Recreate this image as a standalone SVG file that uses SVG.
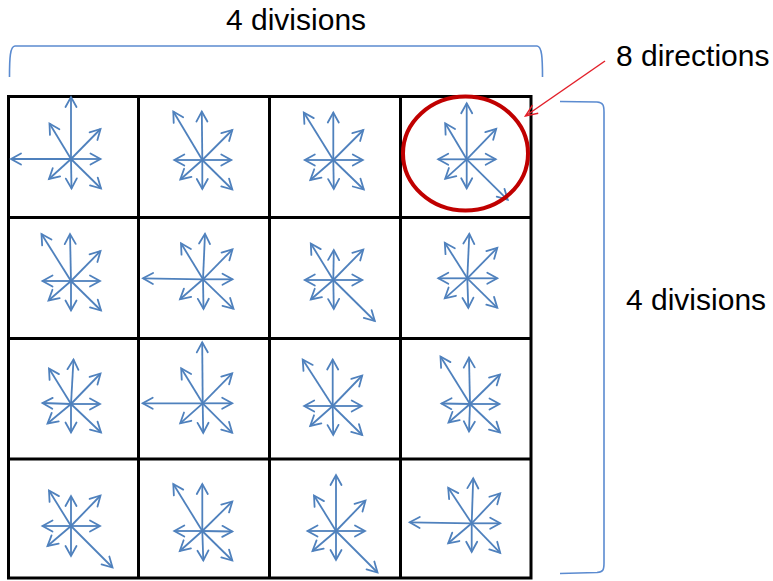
<svg xmlns="http://www.w3.org/2000/svg" width="773" height="581" viewBox="0 0 773 581">
<style>
.lbl{font-family:"Liberation Sans",Arial,sans-serif;font-size:30px;fill:#000}
.grid{fill:none;stroke:#000;stroke-width:3}
.a line{stroke:#4f81bd;stroke-width:1.8;fill:none;marker-end:url(#ah)}
.brace{fill:none;stroke:#5b8bd0;stroke-width:1.6}
</style>
<defs>
<marker id="ah" markerUnits="userSpaceOnUse" orient="auto" refX="0" refY="0" markerWidth="20" markerHeight="20" overflow="visible">
<path d="M-10,-5.5 L0,0 L-10,5.5" fill="none" stroke="#4f81bd" stroke-width="1.8" stroke-linecap="round"/>
</marker>
<marker id="rh" markerUnits="userSpaceOnUse" orient="auto" refX="0" refY="0" markerWidth="20" markerHeight="20" overflow="visible">
<path d="M-12,-5 L0,0 L-12,5" fill="none" stroke="#e3202a" stroke-width="1.5"/>
</marker>
</defs>
<rect width="773" height="581" fill="#fff"/>

<g id="grid">
<rect class="grid" x="8.5" y="96.5" width="522.5" height="481.5"/>
<line class="grid" x1="138.5" y1="96" x2="138.5" y2="578"/>
<line class="grid" x1="269.5" y1="96" x2="269.5" y2="578"/>
<line class="grid" x1="400.5" y1="96" x2="400.5" y2="578"/>
<line class="grid" x1="8" y1="217.5" x2="531" y2="217.5"/>
<line class="grid" x1="8" y1="338.5" x2="531" y2="338.5"/>
<line class="grid" x1="8" y1="459" x2="531" y2="459"/>
</g>

<g id="cell-0-0" class="a" transform="translate(71,159)">
<line x1="0" y1="0" x2="0" y2="-62"/><line x1="0" y1="0" x2="-21.5" y2="-35.5"/><line x1="0" y1="0" x2="29.5" y2="-30"/><line x1="0" y1="0" x2="29.5" y2="0"/><line x1="0" y1="0" x2="-60" y2="0"/><line x1="0" y1="0" x2="-22" y2="20"/><line x1="0" y1="0" x2="0.5" y2="29.5"/><line x1="0" y1="0" x2="30" y2="29.5"/>
</g>
<g id="cell-0-1" class="a" transform="translate(202.3,160)">
<line x1="0" y1="0" x2="-0.5" y2="-48.5"/><line x1="0" y1="0" x2="-29" y2="-48.5"/><line x1="0" y1="0" x2="30" y2="-30"/><line x1="0" y1="0" x2="29" y2="0"/><line x1="0" y1="0" x2="-28" y2="0"/><line x1="0" y1="0" x2="-22" y2="19.5"/><line x1="0" y1="0" x2="0" y2="29"/><line x1="0" y1="0" x2="30" y2="29.5"/>
</g>
<g id="cell-0-2" class="a" transform="translate(333.3,160)">
<line x1="0" y1="0" x2="0" y2="-47.5"/><line x1="0" y1="0" x2="-29.5" y2="-47.5"/><line x1="0" y1="0" x2="30" y2="-30"/><line x1="0" y1="0" x2="29.5" y2="0"/><line x1="0" y1="0" x2="-28.5" y2="0"/><line x1="0" y1="0" x2="-23" y2="20"/><line x1="0" y1="0" x2="0.5" y2="29"/><line x1="0" y1="0" x2="30.5" y2="29.5"/>
</g>
<g id="cell-0-3" class="a" transform="translate(466.7,159.3)">
<line x1="0" y1="0" x2="0" y2="-56"/><line x1="0" y1="0" x2="-21.5" y2="-36"/><line x1="0" y1="0" x2="29.5" y2="-30.5"/><line x1="0" y1="0" x2="29" y2="0"/><line x1="0" y1="0" x2="-28.5" y2="0"/><line x1="0" y1="0" x2="-21.5" y2="19.5"/><line x1="0" y1="0" x2="0" y2="29"/><line x1="0" y1="0" x2="41" y2="40.5"/>
</g>

<g id="cell-1-0" class="a" transform="translate(71,281)">
<line x1="0" y1="0" x2="-1" y2="-47"/><line x1="0" y1="0" x2="-29.5" y2="-47"/><line x1="0" y1="0" x2="29.5" y2="-30"/><line x1="0" y1="0" x2="29" y2="0"/><line x1="0" y1="0" x2="-28.5" y2="0"/><line x1="0" y1="0" x2="-22.5" y2="19.5"/><line x1="0" y1="0" x2="0" y2="29.5"/><line x1="0" y1="0" x2="30" y2="29.5"/>
</g>
<g id="cell-1-1" class="a" transform="translate(203,279.3)">
<line x1="0" y1="0" x2="2" y2="-45.5"/><line x1="0" y1="0" x2="-22" y2="-36"/><line x1="0" y1="0" x2="29.5" y2="-30"/><line x1="0" y1="0" x2="29.5" y2="0"/><line x1="0" y1="0" x2="-60" y2="-1"/><line x1="0" y1="0" x2="-23" y2="20"/><line x1="0" y1="0" x2="0.5" y2="29.5"/><line x1="0" y1="0" x2="30.5" y2="29.5"/>
</g>
<g id="cell-1-2" class="a" transform="translate(333.3,280)">
<line x1="0" y1="0" x2="0.5" y2="-30"/><line x1="0" y1="0" x2="-22.5" y2="-36.5"/><line x1="0" y1="0" x2="30" y2="-30.5"/><line x1="0" y1="0" x2="29" y2="0"/><line x1="0" y1="0" x2="-28.5" y2="0"/><line x1="0" y1="0" x2="-22.5" y2="19.5"/><line x1="0" y1="0" x2="0.5" y2="29"/><line x1="0" y1="0" x2="41.5" y2="41"/>
</g>
<g id="cell-1-3" class="a" transform="translate(467.3,278.3)">
<line x1="0" y1="0" x2="2" y2="-44.5"/><line x1="0" y1="0" x2="-22.5" y2="-35.5"/><line x1="0" y1="0" x2="30" y2="-30.5"/><line x1="0" y1="0" x2="30" y2="0"/><line x1="0" y1="0" x2="-29" y2="0"/><line x1="0" y1="0" x2="-22.5" y2="20"/><line x1="0" y1="0" x2="1" y2="29.5"/><line x1="0" y1="0" x2="30" y2="29.5"/>
</g>

<g id="cell-2-0" class="a" transform="translate(71,404)">
<line x1="0" y1="0" x2="2.5" y2="-44.5"/><line x1="0" y1="0" x2="-22" y2="-35.5"/><line x1="0" y1="0" x2="29.5" y2="-30.5"/><line x1="0" y1="0" x2="29" y2="0"/><line x1="0" y1="0" x2="-28.5" y2="-1"/><line x1="0" y1="0" x2="-23.5" y2="19.5"/><line x1="0" y1="0" x2="0" y2="28.5"/><line x1="0" y1="0" x2="30" y2="28.5"/>
</g>
<g id="cell-2-1" class="a" transform="translate(202.7,403.3)">
<line x1="0" y1="0" x2="-0.5" y2="-61"/><line x1="0" y1="0" x2="-21.5" y2="-35"/><line x1="0" y1="0" x2="29.5" y2="-30"/><line x1="0" y1="0" x2="29.5" y2="0"/><line x1="0" y1="0" x2="-60" y2="0"/><line x1="0" y1="0" x2="-22.5" y2="20"/><line x1="0" y1="0" x2="0.5" y2="29.5"/><line x1="0" y1="0" x2="29.5" y2="29.5"/>
</g>
<g id="cell-2-2" class="a" transform="translate(332.7,406)">
<line x1="0" y1="0" x2="0" y2="-46.5"/><line x1="0" y1="0" x2="-30" y2="-46.5"/><line x1="0" y1="0" x2="29.5" y2="-30.5"/><line x1="0" y1="0" x2="29" y2="0"/><line x1="0" y1="0" x2="-28.5" y2="0"/><line x1="0" y1="0" x2="-22.5" y2="20"/><line x1="0" y1="0" x2="0.5" y2="29"/><line x1="0" y1="0" x2="29.5" y2="29"/>
</g>
<g id="cell-2-3" class="a" transform="translate(470,404)">
<line x1="0" y1="0" x2="-1" y2="-46.5"/><line x1="0" y1="0" x2="-29.5" y2="-47.5"/><line x1="0" y1="0" x2="30" y2="-29.5"/><line x1="0" y1="0" x2="29.5" y2="0"/><line x1="0" y1="0" x2="-28.5" y2="-0.5"/><line x1="0" y1="0" x2="-21.5" y2="18.5"/><line x1="0" y1="0" x2="-1" y2="27.5"/><line x1="0" y1="0" x2="30" y2="28.5"/>
</g>

<g id="cell-3-0" class="a" transform="translate(71,526)">
<line x1="0" y1="0" x2="0" y2="-30"/><line x1="0" y1="0" x2="-22" y2="-35.5"/><line x1="0" y1="0" x2="29.5" y2="-30.5"/><line x1="0" y1="0" x2="29" y2="0"/><line x1="0" y1="0" x2="-28.5" y2="0"/><line x1="0" y1="0" x2="-23.5" y2="20"/><line x1="0" y1="0" x2="0" y2="30"/><line x1="0" y1="0" x2="41.5" y2="41.5"/>
</g>
<g id="cell-3-1" class="a" transform="translate(202.3,531)">
<line x1="0" y1="0" x2="0" y2="-47"/><line x1="0" y1="0" x2="-29" y2="-47"/><line x1="0" y1="0" x2="30" y2="-29.5"/><line x1="0" y1="0" x2="30" y2="0.5"/><line x1="0" y1="0" x2="-28" y2="0"/><line x1="0" y1="0" x2="-22.5" y2="20"/><line x1="0" y1="0" x2="1" y2="29.5"/><line x1="0" y1="0" x2="30" y2="29.5"/>
</g>
<g id="cell-3-2" class="a" transform="translate(336,531)">
<line x1="0" y1="0" x2="0" y2="-56"/><line x1="0" y1="0" x2="-22" y2="-35.5"/><line x1="0" y1="0" x2="29.5" y2="-30.5"/><line x1="0" y1="0" x2="29" y2="0"/><line x1="0" y1="0" x2="-28.5" y2="0"/><line x1="0" y1="0" x2="-23.5" y2="20"/><line x1="0" y1="0" x2="0" y2="29"/><line x1="0" y1="0" x2="41.5" y2="41.5"/>
</g>
<g id="cell-3-3" class="a" transform="translate(471.7,523.3)">
<line x1="0" y1="0" x2="1.5" y2="-45"/><line x1="0" y1="0" x2="-23.5" y2="-35.5"/><line x1="0" y1="0" x2="28.5" y2="-30"/><line x1="0" y1="0" x2="28.5" y2="0"/><line x1="0" y1="0" x2="-62" y2="-1"/><line x1="0" y1="0" x2="-23.5" y2="20"/><line x1="0" y1="0" x2="0" y2="28.5"/><line x1="0" y1="0" x2="28.5" y2="29.5"/>
</g>

<g id="highlight">
<ellipse cx="465.5" cy="153.5" rx="62.5" ry="57" fill="none" stroke="#c00000" stroke-width="4"/>
</g>

<g id="brace-top">
<path class="brace" d="M9.5,77 C9.5,58 10,46.5 15,46 L537,46 C542,46.5 542.5,58 542.5,77"/>
<text class="lbl" x="226" y="30">4 divisions</text>
</g>
<g id="brace-right">
<path class="brace" d="M560,101.5 L597,102 C603,102.5 604,105 604,112 L604,563 C604,570 603,572 597,572.5 L560,573.5"/>
<text class="lbl" x="626" y="310">4 divisions</text>
</g>
<g id="label-directions">
<text class="lbl" x="616" y="66">8 directions</text>
</g>

<g id="connectors">
<line x1="605" y1="61" x2="525.5" y2="116" stroke="#e3202a" stroke-width="1.5" marker-end="url(#rh)"/>
</g>
</svg>
